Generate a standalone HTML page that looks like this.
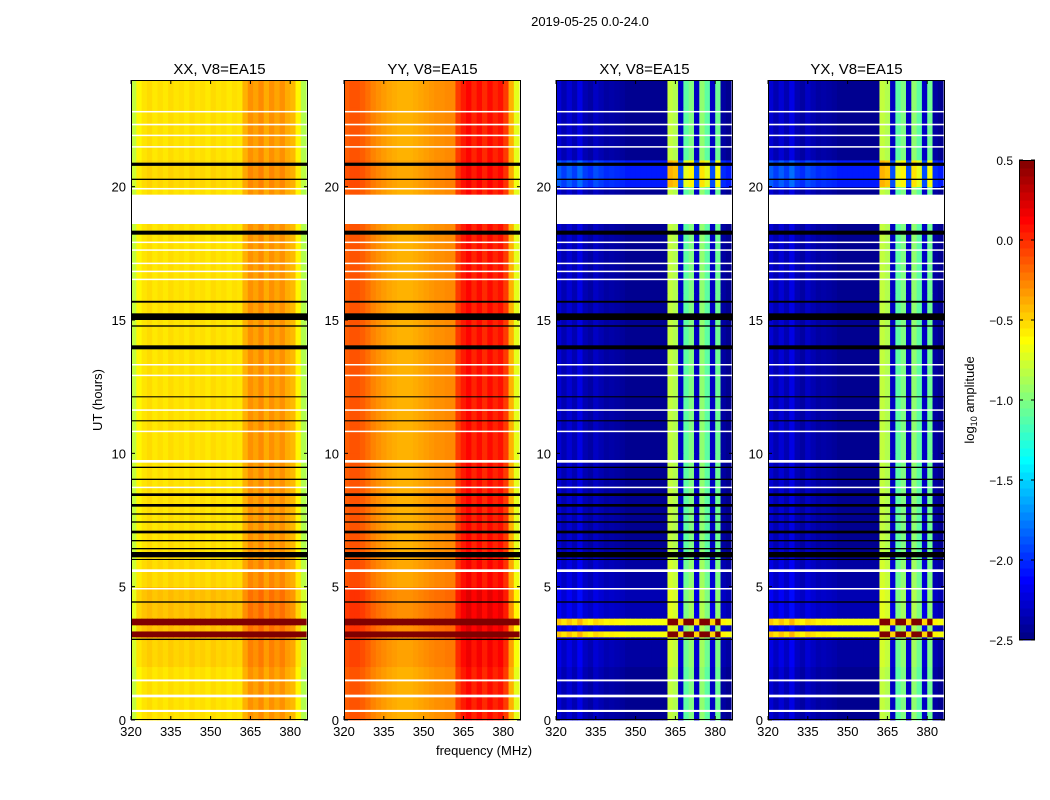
<!DOCTYPE html>
<html><head><meta charset="utf-8"><style>
html,body{margin:0;padding:0;background:#fff;}
svg{display:block;font-family:"Liberation Sans","DejaVu Sans",sans-serif;}
</style></head><body>
<svg id="fig" width="1050" height="800" viewBox="0 0 1050 800">
<text x="590" y="26" font-size="13" text-anchor="middle">2019-05-25 0.0-24.0</text>
<text x="484" y="755" font-size="13" text-anchor="middle">frequency (MHz)</text>
<text transform="translate(102,400) rotate(-90)" font-size="13" text-anchor="middle">UT (hours)</text>
<text transform="translate(974,400) rotate(-90)" font-size="13" text-anchor="middle">log<tspan font-size="9" dy="3">10</tspan><tspan dy="-3"> amplitude</tspan></text>
<g id="panels"></g>
<g id="cbar"></g>
</svg>
<script>
// ---- data ----
const panelTitles = ["XX, V8=EA15","YY, V8=EA15","XY, V8=EA15","YX, V8=EA15"];
const channelFreqs = [320,322,324,326,328,330,332,334,336,338,340,342,344,346,348,350,352,354,356,358,360,362,364,366,368,370,372,374,376,378,380,382,384];
const profileXX = [-0.8,-0.6,-0.55,-0.52,-0.56,-0.53,-0.56,-0.52,-0.55,-0.53,-0.56,-0.52,-0.55,-0.53,-0.56,-0.52,-0.55,-0.53,-0.56,-0.53,-0.55,-0.4,-0.3,-0.35,-0.28,-0.38,-0.3,-0.36,-0.3,-0.38,-0.42,-0.6,-0.85];
const profileYY = [-0.15,-0.12,-0.12,-0.15,-0.2,-0.26,-0.3,-0.33,-0.36,-0.38,-0.4,-0.4,-0.4,-0.38,-0.36,-0.34,-0.32,-0.3,-0.3,-0.28,-0.28,-0.05,0.05,0.12,0.02,0.1,0.0,0.1,0.02,0.08,-0.05,-0.4,-0.7];
const profileXY = [-2.25,-2.35,-2.25,-2.35,-2.2,-2.35,-2.4,-2.3,-2.35,-2.4,-2.38,-2.4,-2.42,-2.45,-2.45,-2.45,-2.45,-2.45,-2.45,-2.45,-2.45,-0.8,-0.85,-2.3,-1.1,-1.0,-2.3,-0.95,-1.1,-2.3,-1.05,-2.4,-2.45];
const profileYX = [-2.25,-2.35,-2.25,-2.35,-2.2,-2.35,-2.4,-2.3,-2.35,-2.4,-2.38,-2.4,-2.42,-2.45,-2.45,-2.45,-2.45,-2.45,-2.45,-2.45,-2.45,-0.8,-0.85,-2.3,-1.1,-1.0,-2.3,-0.95,-1.1,-2.3,-1.05,-2.4,-2.45];
const hourOffsetPar = [0,0,0.05,0.1,0.1,0.03,0,0,0,0,0,0,0,0,0,0,0,0,0,0,0.03,0,0,0];
const hourOffsetCross = [0,0,0.05,0.1,0.1,0.05,0,0,0,0,0,0,0,0,0,0,0,0,0,0,0.4,0,0,0];
const hotValues = [0.5,0.5,-0.3,-0.3];
const hotSpans = [[3.55,3.8],[3.1,3.32]];
const flagSpans = [[20.78,20.9],[20.25,20.3],[18.2,18.35],[15.65,15.72],[15.0,15.25],[14.75,14.8],[13.9,14.05],[12.1,12.14],[11.2,11.24],[9.45,9.5],[9.0,9.05],[8.4,8.5],[8.0,8.1],[7.7,7.75],[7.4,7.45],[7.0,7.1],[6.7,6.75],[6.4,6.45],[6.1,6.3],[6.0,6.04],[4.4,4.45],[3.0,3.05]];
const gapSpans = [[0.3,0.38],[0.85,0.95],[1.45,1.52],[5.55,5.65],[9.65,9.75],[18.6,19.7],[21.48,21.52],[21.9,21.95],[22.3,22.36],[16.5,16.55],[16.8,16.85],[17.1,17.15],[17.6,17.65],[17.9,17.94],[12.9,12.95],[11.6,11.65],[10.8,10.85],[13.3,13.35],[8.7,8.75],[4.9,4.95],[19.9,19.95],[22.8,22.84]];
const xTicks = [320,335,350,365,380];
const yTicks = [0,5,10,15,20];
const cbarTicks = [0.5,0.0,-0.5,-1.0,-1.5,-2.0,-2.5];
const cbarLabels = ["0.5","0.0","\u22120.5","\u22121.0","\u22121.5","\u22122.0","\u22122.5"];
// ---- layout ----
const panelX = [131,344,556,768], PW = 177, PT = 80, PB = 720;
const F0 = 320, F1 = 386.7, VMIN = -2.5, VMAX = 0.5;
const NS = "http://www.w3.org/2000/svg";
function jet(v){
  let t=(v-VMIN)/(VMAX-VMIN); t=Math.max(0,Math.min(1,t));
  const c=x=>Math.max(0,Math.min(1,x));
  const r=c(1.5-Math.abs(4*t-3)), g=c(1.5-Math.abs(4*t-2)), b=c(1.5-Math.abs(4*t-1));
  return `rgb(${Math.round(r*255)},${Math.round(g*255)},${Math.round(b*255)})`;
}
function mk(tag,attrs,parent){const e=document.createElementNS(NS,tag);for(const k in attrs)e.setAttribute(k,attrs[k]);parent.appendChild(e);return e;}
const profiles=[profileXX,profileYY,profileXY,profileYX];
const offsets=[hourOffsetPar,hourOffsetPar,hourOffsetCross,hourOffsetCross];
const root=document.getElementById('panels');
panelX.forEach((px,p)=>{
  const xs=f=>px+(f-F0)/(F1-F0)*PW;
  const ys=h=>PB-h/24*(PB-PT);
  const g=mk('g',{},root);
  
  
  for(let h=0;h<24;h++){
    channelFreqs.forEach((f,ci)=>{
      const x0=xs(f), x1=Math.min(xs(f+2.03),px+PW);
      const r=mk('rect',{x:x0,y:ys(h+1),width:Math.max(0,x1-x0)+0.4,height:ys(h)-ys(h+1)+0.4,fill:jet(profiles[p][ci]+offsets[p][h])},g);
      
      
    });
  }
  hotSpans.forEach(s=>{
    channelFreqs.forEach((f,ci)=>{
      const v=p<2?hotValues[p]:Math.max(profiles[p][ci]+1.8,hotValues[p]-0.6);
      const x0=xs(f), x1=Math.min(xs(f+2.03),px+PW);
      const r=mk('rect',{x:x0,y:ys(s[1]),width:Math.max(0,x1-x0)+0.4,height:ys(s[0])-ys(s[1]),fill:jet(Math.min(v,0.5))},g);
      
      
    });
  });
  flagSpans.forEach(s=>{
    const r=mk('rect',{x:px,y:ys(s[1]),width:PW,height:Math.max(1,ys(s[0])-ys(s[1])),fill:'#000'},g);
    
    
  });
  gapSpans.forEach(s=>{
    const r=mk('rect',{x:px,y:ys(s[1]),width:PW,height:Math.max(1.5,ys(s[0])-ys(s[1])),fill:'#fff'},g);
    
    
  });
  const fr=mk('rect',{x:px+0.5,y:PT+0.5,width:PW-1,height:PB-PT-1,fill:'none',stroke:'#000','stroke-width':1},g);
  
  
  const t=mk('text',{x:px+PW/2,y:74,'font-size':15,'text-anchor':'middle'},g);
  t.textContent=panelTitles[p];
  
  
  xTicks.forEach(v=>{
    const x=xs(v);
    mk('line',{x1:x,x2:x,y1:PB,y2:PB-4,stroke:'#000'},g);
    mk('line',{x1:x,x2:x,y1:PT,y2:PT+4,stroke:'#000'},g);
    const l=mk('text',{x:x,y:PB+16,'font-size':13,'text-anchor':'middle'},g);
    l.textContent=v;
    
    
  });
  yTicks.forEach(v=>{
    const y=ys(v);
    mk('line',{x1:px,x2:px+4,y1:y,y2:y,stroke:'#000'},g);
    mk('line',{x1:px+PW,x2:px+PW-4,y1:y,y2:y,stroke:'#000'},g);
    const l=mk('text',{x:px-5,y:y+5,'font-size':13,'text-anchor':'end'},g);
    l.textContent=v;
    
    
  });
});
const cb=document.getElementById('cbar');
const CX=1019,CW=16,CT=160,CB=640;
const cys=v=>CB-(v-VMIN)/(VMAX-VMIN)*(CB-CT);
for(let i=0;i<60;i++){
  const v0=VMIN+i*(VMAX-VMIN)/60, v1=VMIN+(i+1)*(VMAX-VMIN)/60;
  const r=mk('rect',{x:CX,y:cys(v1),width:CW,height:cys(v0)-cys(v1)+0.5,fill:jet((v0+v1)/2)},cb);
  
  
}
const cf=mk('rect',{x:CX+0.5,y:CT+0.5,width:CW-1,height:CB-CT-1,fill:'none',stroke:'#000'},cb);


cbarTicks.forEach((v,i)=>{
  const y=cys(v);
  mk('line',{x1:CX,x2:CX+4,y1:y,y2:y,stroke:'#000'},cb);
  mk('line',{x1:CX+CW,x2:CX+CW-4,y1:y,y2:y,stroke:'#000'},cb);
  const l=mk('text',{x:1013,y:y+5,'font-size':12,'text-anchor':'end'},cb);
  l.textContent=cbarLabels[i];
  
  
});
</script>
</body></html>
